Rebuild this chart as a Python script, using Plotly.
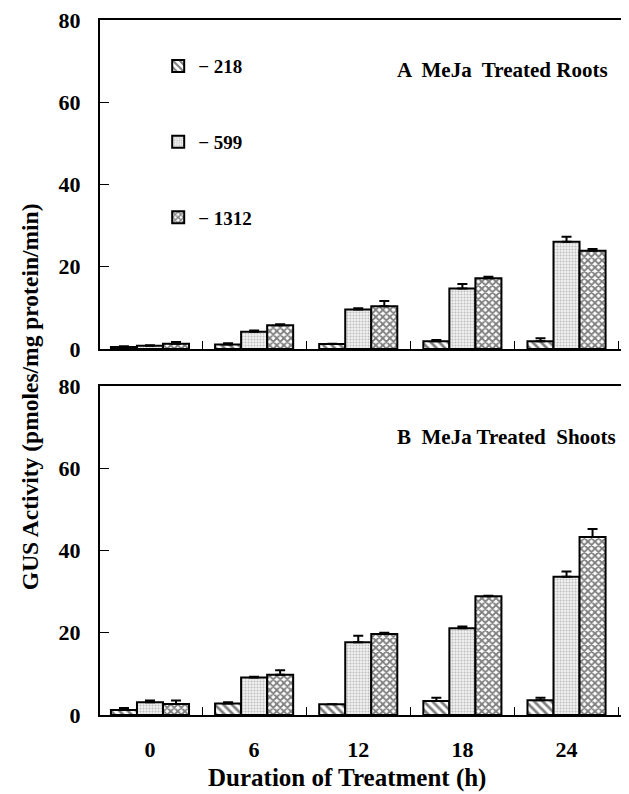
import plotly.graph_objects as go

hours = ["0", "6", "12", "18", "24"]
series_names = ["\u2212 218", "\u2212 599", "\u2212 1312"]

roots_218 = [0.5, 1.1, 1.2, 1.9, 1.9]
roots_218_err = [0.2, 0.3, 0.1, 0.3, 0.7]
roots_599 = [0.8, 4.2, 9.6, 14.7, 26.1]
roots_599_err = [0.1, 0.3, 0.3, 1.1, 1.2]
roots_1312 = [1.3, 5.8, 10.4, 17.2, 23.9]
roots_1312_err = [0.4, 0.2, 1.3, 0.4, 0.4]

shoots_218 = [1.2, 2.8, 2.6, 3.4, 3.6]
shoots_218_err = [0.5, 0.3, 0.0, 0.8, 0.6]
shoots_599 = [3.1, 9.1, 17.7, 21.1, 33.6]
shoots_599_err = [0.4, 0.2, 1.6, 0.4, 1.3]
shoots_1312 = [2.7, 9.8, 19.7, 28.9, 43.3]
shoots_1312_err = [0.8, 1.1, 0.3, 0.1, 1.9]

y_ticks = [0, 20, 40, 60, 80]

FONT = "Liberation Serif"
patterns = [
    dict(shape="\\", fgcolor="black", bgcolor="white", size=6, solidity=0.45),
    dict(shape=".", fgcolor="#8a8a8a", bgcolor="#f0f0f0", size=3, solidity=0.35),
    dict(shape="x", fgcolor="black", bgcolor="white", size=5, solidity=0.6),
]

fig = go.Figure()

roots = [(roots_218, roots_218_err), (roots_599, roots_599_err), (roots_1312, roots_1312_err)]
shoots = [(shoots_218, shoots_218_err), (shoots_599, shoots_599_err), (shoots_1312, shoots_1312_err)]

for i, (vals, errs) in enumerate(roots):
    fig.add_trace(go.Bar(
        x=hours, y=vals, name=series_names[i], legendgroup=str(i), showlegend=True,
        marker=dict(color="white", pattern=patterns[i], line=dict(color="black", width=2)),
        error_y=dict(type="data", array=errs, arrayminus=[0] * len(errs), symmetric=False,
                     color="black", thickness=2, width=5),
        xaxis="x", yaxis="y",
    ))
for i, (vals, errs) in enumerate(shoots):
    fig.add_trace(go.Bar(
        x=hours, y=vals, name=series_names[i], legendgroup=str(i), showlegend=False,
        marker=dict(color="white", pattern=patterns[i], line=dict(color="black", width=2)),
        error_y=dict(type="data", array=errs, arrayminus=[0] * len(errs), symmetric=False,
                     color="black", thickness=2, width=5),
        xaxis="x2", yaxis="y2",
    ))

tickfont = dict(family=FONT, size=22, color="black", weight="bold")
axis_common = dict(showline=True, linecolor="black", linewidth=2, showgrid=False, zeroline=False)
xcommon = dict(type="category", range=[-0.48, 4.6], tickson="boundaries", ticks="inside",
               ticklen=8, tickcolor="black", tickwidth=1, mirror=True, tickfont=tickfont,
               **axis_common)
ycommon = dict(range=[0, 80], tickvals=y_ticks, ticks="inside", ticklen=9, tickcolor="black",
               tickwidth=1, ticklabelstandoff=13, tickfont=tickfont, ticklabeloverflow="allow",
               **axis_common)

fig.update_layout(
    width=621, height=786,
    margin=dict(l=92, r=0, t=12, b=79),
    paper_bgcolor="white", plot_bgcolor="white",
    barmode="group", bargap=0.25, bargroupgap=0,
    font=dict(family=FONT, color="black"),
    xaxis=dict(domain=[0, 1], anchor="y", showticklabels=False, **xcommon),
    yaxis=dict(domain=[0.5266, 1], anchor="x", **ycommon),
    xaxis2=dict(domain=[0, 1], anchor="y2", showticklabels=True, ticklabelstandoff=14, **xcommon),
    yaxis2=dict(domain=[0, 0.4734], anchor="x2", **ycommon),
    legend=dict(x=0.11, y=0.961, xanchor="left", yanchor="top", bgcolor="rgba(0,0,0,0)",
                font=dict(family=FONT, size=19, color="black", weight="bold"), tracegroupgap=48,
                itemwidth=30, traceorder="grouped"),
    annotations=[
        dict(text="<b>A  MeJa  Treated Roots</b>", xref="paper", yref="paper", x=0.964, y=0.928,
             xanchor="right", yanchor="middle", showarrow=False,
             font=dict(family=FONT, size=21, color="black")),
        dict(text="<b>B  MeJa Treated  Shoots</b>", xref="paper", yref="paper", x=0.979, y=0.4,
             xanchor="right", yanchor="middle", showarrow=False,
             font=dict(family=FONT, size=21, color="black")),
        dict(text="<b>GUS Activity (pmoles/mg protein/min)</b>", xref="paper", yref="paper",
             x=-0.132, y=0.4576, xanchor="center", yanchor="middle", textangle=-90, showarrow=False,
             font=dict(family=FONT, size=23.5, color="black")),
        dict(text="<b>Duration of Treatment (h)</b>", xref="paper", yref="paper",
             x=0.467, y=-0.0906, xanchor="center", yanchor="middle", showarrow=False,
             font=dict(family=FONT, size=25, color="black")),
    ],
)
fig.write_html("out.html")
